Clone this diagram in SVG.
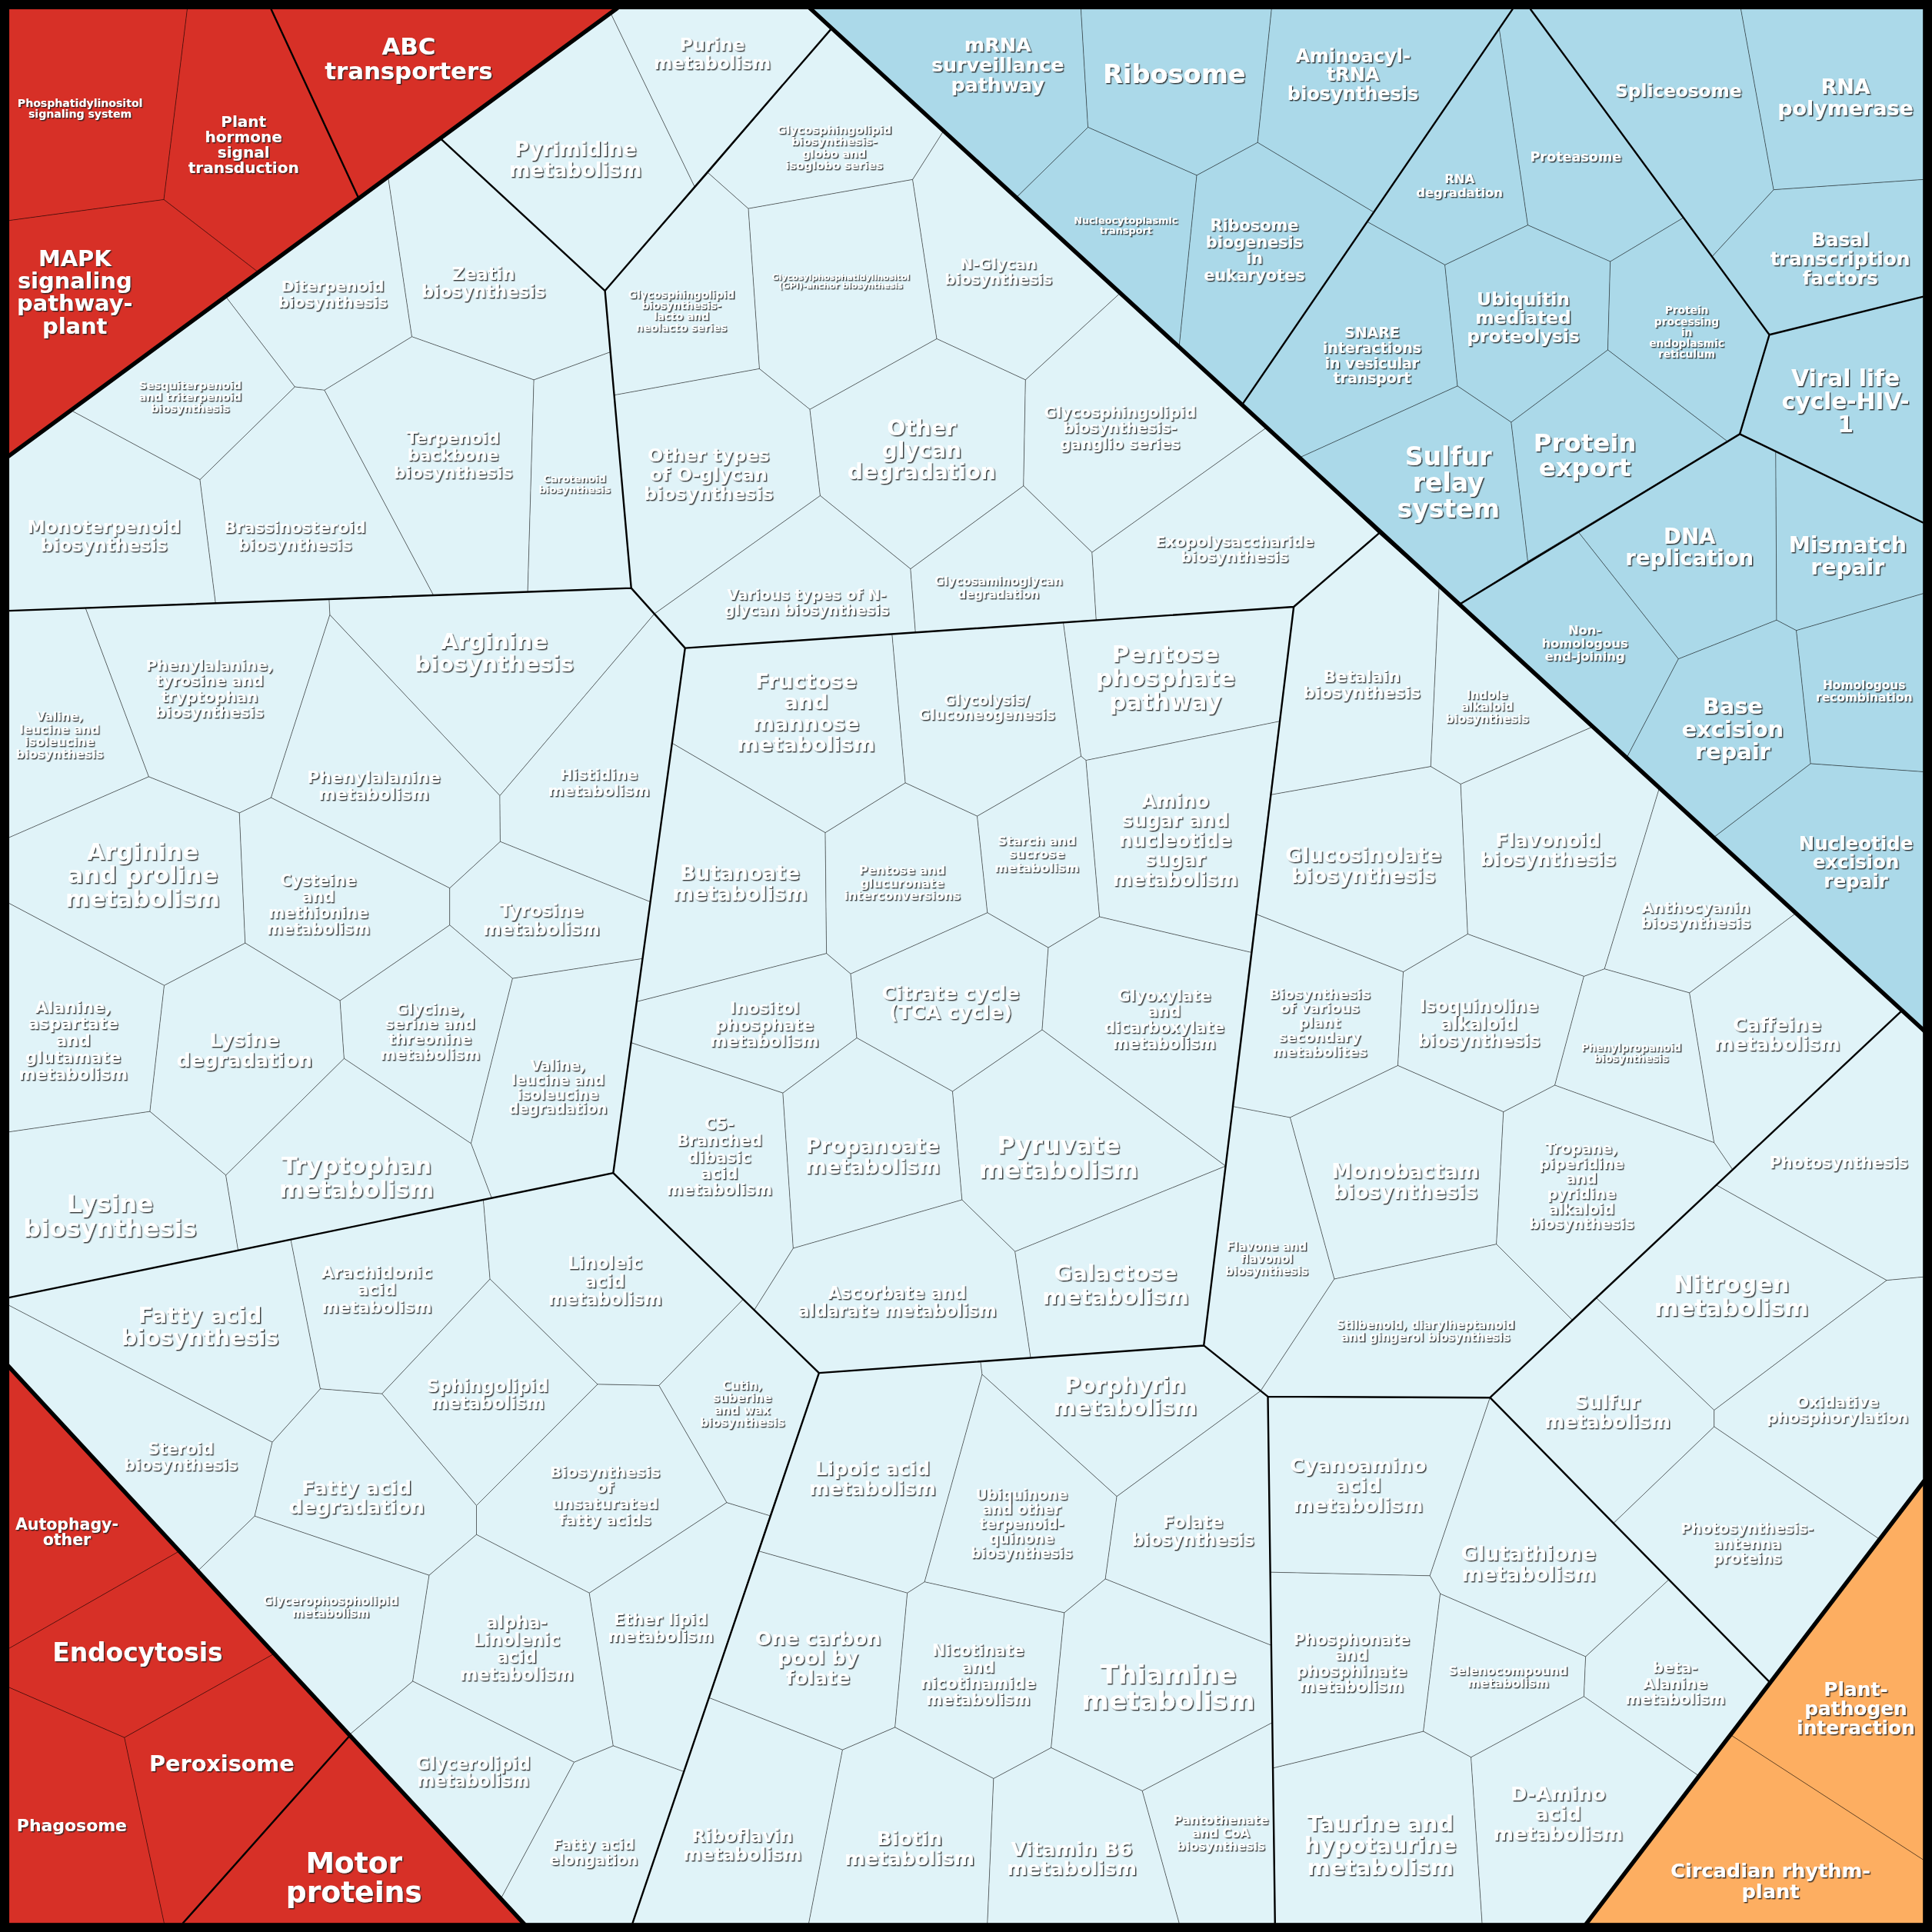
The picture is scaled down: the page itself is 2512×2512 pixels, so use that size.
<svg xmlns="http://www.w3.org/2000/svg" width="2512" height="2512" viewBox="0 0 2512 2512">
<defs>
<filter id="ts" x="-10%" y="-30%" width="125%" height="170%"><feDropShadow dx="0.9" dy="0.9" stdDeviation="0.35" flood-color="#1a1a1a" flood-opacity="0.85"/></filter>
<style>
text{font-family:"DejaVu Sans","Liberation Sans",sans-serif;font-weight:700;fill:#fff;text-anchor:middle;filter:url(#ts)}
.l{fill:#e0f3f8}.b{fill:#abd9e9}.r{fill:#d73027}.o{fill:#fdae61}
polygon{stroke:#000;stroke-opacity:.5;stroke-width:.45;stroke-linejoin:round}
.t1{stroke:#000;stroke-width:3.4;fill:none;stroke-linecap:square}
.t2{stroke:#000;stroke-width:1.5;fill:none;stroke-linejoin:round}
</style>
</defs>
<rect width="2512" height="2512" fill="#000"/>
<g transform="scale(1.60204)">
<g id="phosphatidylinositol"><polygon class="r" points="7.3,7.3 152,7.3 133,162 7.3,179"/><text x="65" y="83.3" font-size="8.8"><tspan x="65" dy=".36em">Phosphatidylinositol</tspan><tspan x="65" dy="1.04em">signaling system</tspan></text></g>
<g id="plant_hormone"><polygon class="r" points="152,7.3 220,7.3 291,160.7 209.3,220.7 133,162"/><text x="197.7" y="98.7" font-size="12.5"><tspan x="197.7" dy=".36em">Plant</tspan><tspan x="197.7" dy="1.0em">hormone</tspan><tspan x="197.7" dy="1.0em">signal</tspan><tspan x="197.7" dy="1.0em">transduction</tspan></text></g>
<g id="abc"><polygon class="r" points="220,7.3 500,7.3 291,160.7"/><text x="331.7" y="37.7" font-size="19.2"><tspan x="331.7" dy=".36em">ABC</tspan><tspan x="331.7" dy="1.02em">transporters</tspan></text></g>
<g id="mapk"><polygon class="r" points="7.3,179 133,162 209.3,220.7 7.3,370"/><text x="60.7" y="209.3" font-size="18"><tspan x="60.7" dy=".36em">MAPK</tspan><tspan x="60.7" dy="1.02em">signaling</tspan><tspan x="60.7" dy="1.02em">pathway-</tspan><tspan x="60.7" dy="1.02em">plant</tspan></text></g>

<g id="pyrimidine"><polygon class="l" points="357,112 495.3,10 564,152 491,236"/><text x="467" y="120.7" font-size="16.3"><tspan x="467" dy=".36em">Pyrimidine</tspan><tspan x="467" dy="1.03em">metabolism</tspan></text></g>
<g id="purine"><polygon class="l" points="495.3,10 500,7.3 658,7.3 675,23 564,152"/><text x="578" y="36" font-size="14.4"><tspan x="578" dy=".36em">Purine</tspan><tspan x="578" dy="1.04em">metabolism</tspan></text></g>

<g id="diterpenoid"><polygon class="l" points="183,240.5 315,143.5 334.3,273.3 263.3,316.7 239.3,314"/><text x="270" y="232.3" font-size="12.5"><tspan x="270" dy=".36em">Diterpenoid</tspan><tspan x="270" dy="1.02em">biosynthesis</tspan></text></g>
<g id="zeatin"><polygon class="l" points="315,143.5 357,112 491,236 495.4,285.7 433.3,308.3 334.3,273.3"/><text x="392.3" y="222.3" font-size="14.2"><tspan x="392.3" dy=".36em">Zeatin</tspan><tspan x="392.3" dy="1.01em">biosynthesis</tspan></text></g>
<g id="sesquiterpenoid"><polygon class="l" points="57.5,333 183,240.5 239.3,314 162.3,389.3"/><text x="154.3" y="312.7" font-size="9"><tspan x="154.3" dy=".36em">Sesquiterpenoid</tspan><tspan x="154.3" dy="1.05em">and triterpenoid</tspan><tspan x="154.3" dy="1.05em">biosynthesis</tspan></text></g>
<g id="terpenoid_backbone"><polygon class="l" points="263.3,316.7 334.3,273.3 433.3,308.3 428.3,480.4 351.7,483"/><text x="367.7" y="355.3" font-size="13.6"><tspan x="367.7" dy=".36em">Terpenoid</tspan><tspan x="367.7" dy="1.03em">backbone</tspan><tspan x="367.7" dy="1.03em">biosynthesis</tspan></text></g>
<g id="carotenoid"><polygon class="l" points="433.3,308.3 495.4,285.7 512.3,477.3 428.3,480.4"/><text x="466.3" y="388.3" font-size="8.2"><tspan x="466.3" dy=".36em">Carotenoid</tspan><tspan x="466.3" dy="1.08em">biosynthesis</tspan></text></g>
<g id="monoterpenoid"><polygon class="l" points="7.3,370 57.5,333 162.3,389.3 175,489.6 7.3,495.7"/><text x="84.3" y="427.3" font-size="14.5"><tspan x="84.3" dy=".36em">Monoterpenoid</tspan><tspan x="84.3" dy="1.05em">biosynthesis</tspan></text></g>
<g id="brassinosteroid"><polygon class="l" points="162.3,389.3 239.3,314 263.3,316.7 351.7,483 175,489.6"/><text x="239.3" y="427.7" font-size="13"><tspan x="239.3" dy=".36em">Brassinosteroid</tspan><tspan x="239.3" dy="1.1em">biosynthesis</tspan></text></g>

<g id="glyco_globo"><polygon class="l" points="675,23 766,106 740.7,145.7 607.3,169.3 574.7,140.3"/><text x="677" y="105" font-size="9.3"><tspan x="677" dy=".36em">Glycosphingolipid</tspan><tspan x="677" dy="1.05em">biosynthesis-</tspan><tspan x="677" dy="1.05em">globo and</tspan><tspan x="677" dy="1.05em">isoglobo series</tspan></text></g>
<g id="gpi_anchor"><polygon class="l" points="607.3,169.3 740.7,145.7 760.3,275 657.3,332.3 616.3,299.3"/><text x="682.3" y="225" font-size="6.9"><tspan x="682.3" dy=".36em">Glycosylphosphatidylinositol</tspan><tspan x="682.3" dy="1em">(GPI)-anchor biosynthesis</tspan></text></g>
<g id="n_glycan"><polygon class="l" points="740.7,145.7 766,106 909,238 832.3,308.3 760.3,275"/><text x="810.3" y="214" font-size="12.3"><tspan x="810.3" dy=".36em">N-Glycan</tspan><tspan x="810.3" dy="1.03em">biosynthesis</tspan></text></g>
<g id="glyco_lacto"><polygon class="l" points="491,236 574.7,140.3 607.3,169.3 616.3,299.3 498.5,320.7"/><text x="553" y="239" font-size="8.6"><tspan x="553" dy=".36em">Glycosphingolipid</tspan><tspan x="553" dy="1.04em">biosynthesis-</tspan><tspan x="553" dy="1.04em">lacto and</tspan><tspan x="553" dy="1.04em">neolacto series</tspan></text></g>
<g id="o_glycan"><polygon class="l" points="498.5,320.7 616.3,299.3 657.3,332.3 665.7,402.3 531.1,498.2 512.3,477.3"/><text x="575" y="369.3" font-size="14.8"><tspan x="575" dy=".36em">Other types</tspan><tspan x="575" dy="1.05em">of O-glycan</tspan><tspan x="575" dy="1.05em">biosynthesis</tspan></text></g>
<g id="other_glycan"><polygon class="l" points="657.3,332.3 760.3,275 832.3,308.3 830.7,394.3 739,461.7 665.7,402.3"/><text x="748" y="347.3" font-size="17.5"><tspan x="748" dy=".36em">Other</tspan><tspan x="748" dy="1.01em">glycan</tspan><tspan x="748" dy="1.01em">degradation</tspan></text></g>
<g id="glyco_ganglio"><polygon class="l" points="832.3,308.3 909,238 1028,347 886.3,448.3 830.7,394.3"/><text x="909" y="334.3" font-size="12.3"><tspan x="909" dy=".36em">Glycosphingolipid</tspan><tspan x="909" dy="1.04em">biosynthesis-</tspan><tspan x="909" dy="1.04em">ganglio series</tspan></text></g>
<g id="various_n_glycan"><polygon class="l" points="531.1,498.2 665.7,402.3 739,461.7 743,513.3 556,526"/><text x="654.7" y="482.7" font-size="12"><tspan x="654.7" dy=".36em">Various types of N-</tspan><tspan x="654.7" dy="1.03em">glycan biosynthesis</tspan></text></g>
<g id="glycosaminoglycan"><polygon class="l" points="739,461.7 830.7,394.3 886.3,448.3 889.7,503.4 743,513.3"/><text x="810.3" y="471.7" font-size="9.6"><tspan x="810.3" dy=".36em">Glycosaminoglycan</tspan><tspan x="810.3" dy="1.07em">degradation</tspan></text></g>
<g id="exopolysaccharide"><polygon class="l" points="886.3,448.3 1028,347 1119,433 1050,492.5 889.7,503.4"/><text x="1002" y="439.3" font-size="12.3"><tspan x="1002" dy=".36em">Exopolysaccharide</tspan><tspan x="1002" dy="1.03em">biosynthesis</tspan></text></g>

<g id="mrna_surveillance"><polygon class="b" points="658,7.3 877.3,7.3 883,103.3 824.8,160.4"/><text x="809.7" y="36" font-size="15.8"><tspan x="809.7" dy=".36em">mRNA</tspan><tspan x="809.7" dy="1.03em">surveillance</tspan><tspan x="809.7" dy="1.03em">pathway</tspan></text></g>
<g id="ribosome"><polygon class="b" points="877.3,7.3 1032,7.3 1020.7,115.7 971.3,142.3 883,103.3"/><text x="953" y="60" font-size="21" dy=".36em">Ribosome</text></g>
<g id="aminoacyl_trna"><polygon class="b" points="1032,7.3 1227.7,7.3 1115,172.3 1020.7,115.7"/><text x="1098" y="45" font-size="15"><tspan x="1098" dy=".36em">Aminoacyl-</tspan><tspan x="1098" dy="1.03em">tRNA</tspan><tspan x="1098" dy="1.03em">biosynthesis</tspan></text></g>
<g id="nucleocytoplasmic"><polygon class="b" points="824.8,160.4 883,103.3 971.3,142.3 957,281.6"/><text x="913.7" y="179" font-size="8"><tspan x="913.7" dy=".36em">Nucleocytoplasmic</tspan><tspan x="913.7" dy="1em">transport</tspan></text></g>
<g id="ribosome_biogenesis"><polygon class="b" points="971.3,142.3 1020.7,115.7 1115,172.3 1008,328.6 957,281.6"/><text x="1018" y="182.7" font-size="13"><tspan x="1018" dy=".36em">Ribosome</tspan><tspan x="1018" dy="1.03em">biogenesis</tspan><tspan x="1018" dy="1.03em">in</tspan><tspan x="1018" dy="1.03em">eukaryotes</tspan></text></g>

<g id="rna_degradation"><polygon class="b" points="1216.8,23.3 1240,182.7 1172.7,215 1109.7,180"/><text x="1184.5" y="145" font-size="10.2"><tspan x="1184.5" dy=".36em">RNA</tspan><tspan x="1184.5" dy="1.07em">degradation</tspan></text></g>
<g id="proteasome"><polygon class="b" points="1216.8,23.3 1227.7,7.3 1242,7.3 1366.3,176.7 1306.9,212.3 1240,182.7"/><text x="1278.9" y="127" font-size="11" dy=".36em">Proteasome</text></g>
<g id="snare"><polygon class="b" points="1109.7,180 1172.7,215 1182.9,313.3 1054.8,371.4 1008,328.6"/><text x="1113.5" y="270" font-size="11.8"><tspan x="1113.5" dy=".36em">SNARE</tspan><tspan x="1113.5" dy="1.04em">interactions</tspan><tspan x="1113.5" dy="1.04em">in vesicular</tspan><tspan x="1113.5" dy="1.04em">transport</tspan></text></g>
<g id="ubiquitin"><polygon class="b" points="1172.7,215 1240,182.7 1306.9,212.3 1304.9,284 1226.5,342.7 1182.9,313.3"/><text x="1236.2" y="242.7" font-size="14.6"><tspan x="1236.2" dy=".36em">Ubiquitin</tspan><tspan x="1236.2" dy="1.03em">mediated</tspan><tspan x="1236.2" dy="1.03em">proteolysis</tspan></text></g>
<g id="protein_processing"><polygon class="b" points="1306.9,212.3 1366.3,176.7 1436,271.7 1412,352.3 1402,358.3 1304.9,284"/><text x="1368.9" y="251.7" font-size="8.6"><tspan x="1368.9" dy=".36em">Protein</tspan><tspan x="1368.9" dy="1.04em">processing</tspan><tspan x="1368.9" dy="1.04em">in</tspan><tspan x="1368.9" dy="1.04em">endoplasmic</tspan><tspan x="1368.9" dy="1.04em">reticulum</tspan></text></g>
<g id="sulfur_relay"><polygon class="b" points="1054.8,371.4 1182.9,313.3 1226.5,342.7 1240,455.5 1185.3,490"/><text x="1175.5" y="370" font-size="20.6"><tspan x="1175.5" dy=".36em">Sulfur</tspan><tspan x="1175.5" dy="1.03em">relay</tspan><tspan x="1175.5" dy="1.03em">system</tspan></text></g>
<g id="protein_export"><polygon class="b" points="1226.5,342.7 1304.9,284 1402,358.3 1240,455.5"/><text x="1286.2" y="359" font-size="20.2"><tspan x="1286.2" dy=".36em">Protein</tspan><tspan x="1286.2" dy="1em">export</tspan></text></g>

<g id="spliceosome"><polygon class="b" points="1242,7.3 1412.9,7.3 1439.5,154 1389.5,208.3"/><text x="1362.2" y="73.3" font-size="14.5" dy=".36em">Spliceosome</text></g>
<g id="rna_polymerase"><polygon class="b" points="1412.9,7.3 1561,7.3 1561,145.7 1439.5,154"/><text x="1497.8" y="70" font-size="16.8"><tspan x="1497.8" dy=".36em">RNA</tspan><tspan x="1497.8" dy="1.03em">polymerase</tspan></text></g>
<g id="basal_transcription"><polygon class="b" points="1389.5,208.3 1439.5,154 1561,145.7 1561,240.7 1436,271.7"/><text x="1493.5" y="194.3" font-size="15.5"><tspan x="1493.5" dy=".36em">Basal</tspan><tspan x="1493.5" dy="1.01em">transcription</tspan><tspan x="1493.5" dy="1.01em">factors</tspan></text></g>
<g id="viral_hiv"><polygon class="b" points="1436,271.7 1561,240.7 1561,424.3 1412,352.3"/><text x="1497.8" y="306.7" font-size="18.5"><tspan x="1497.8" dy=".36em">Viral life</tspan><tspan x="1497.8" dy="1.02em">cycle-HIV-</tspan><tspan x="1497.8" dy="1.02em">1</tspan></text></g>

<g id="dna_replication"><polygon class="b" points="1280.5,431.2 1412,352.3 1441.2,366.4 1441.9,503.3 1362.2,534.8"/><text x="1371.2" y="435" font-size="17.2"><tspan x="1371.2" dy=".36em">DNA</tspan><tspan x="1371.2" dy="1.01em">replication</tspan></text></g>
<g id="mismatch_repair"><polygon class="b" points="1441.2,366.4 1561,424.3 1561,481.7 1457.9,511.7 1441.9,503.3"/><text x="1499.5" y="441.7" font-size="17.6"><tspan x="1499.5" dy=".36em">Mismatch</tspan><tspan x="1499.5" dy="1.04em">repair</tspan></text></g>
<g id="nhej"><polygon class="b" points="1185.3,490 1280.5,431.2 1362.2,534.8 1320.2,615"/><text x="1286.2" y="511" font-size="10.2"><tspan x="1286.2" dy=".36em">Non-</tspan><tspan x="1286.2" dy="1.05em">homologous</tspan><tspan x="1286.2" dy="1.05em">end-joining</tspan></text></g>
<g id="base_excision"><polygon class="b" points="1362.2,534.8 1441.9,503.3 1457.9,511.7 1469.5,619.8 1390.8,679.7 1320.2,615"/><text x="1406.2" y="573.1" font-size="18"><tspan x="1406.2" dy=".36em">Base</tspan><tspan x="1406.2" dy="1.02em">excision</tspan><tspan x="1406.2" dy="1.02em">repair</tspan></text></g>
<g id="homologous_recombination"><polygon class="b" points="1457.9,511.7 1561,481.7 1561,626.4 1469.5,619.8"/><text x="1512.9" y="555.8" font-size="9.6"><tspan x="1512.9" dy=".36em">Homologous</tspan><tspan x="1512.9" dy="1.04em">recombination</tspan></text></g>
<g id="nucleotide_excision"><polygon class="b" points="1469.5,619.8 1561,626.4 1561,836 1390.8,679.7"/><text x="1506.2" y="684" font-size="15.3"><tspan x="1506.2" dy=".36em">Nucleotide</tspan><tspan x="1506.2" dy="1.01em">excision</tspan><tspan x="1506.2" dy="1.01em">repair</tspan></text></g>

<g id="arginine_bio"><polygon class="l" points="267,486.2 512.3,477.3 531.1,498.2 405.7,645.8 267.7,499"/><text x="401" y="520" font-size="18.2"><tspan x="401" dy=".36em">Arginine</tspan><tspan x="401" dy="1em">biosynthesis</tspan></text></g>
<g id="phe_tyr_trp"><polygon class="l" points="69.3,493.4 267,486.2 267.7,499 220,647.4 194.3,659.8 120.7,630.4"/><text x="170" y="539.8" font-size="12.4"><tspan x="170" dy=".36em">Phenylalanine,</tspan><tspan x="170" dy="1.03em">tyrosine and</tspan><tspan x="170" dy="1.03em">tryptophan</tspan><tspan x="170" dy="1.03em">biosynthesis</tspan></text></g>
<g id="val_leu_ile_bio"><polygon class="l" points="7.3,495.7 69.3,493.4 120.7,630.4 7.3,679.8"/><text x="48.3" y="581.4" font-size="10"><tspan x="48.3" dy=".36em">Valine,</tspan><tspan x="48.3" dy="1.02em">leucine and</tspan><tspan x="48.3" dy="1.02em">isoleucine</tspan><tspan x="48.3" dy="1.02em">biosynthesis</tspan></text></g>
<g id="phenylalanine"><polygon class="l" points="267.7,499 405.7,645.8 406,683.1 365,720.8 220,647.4"/><text x="303.3" y="630.4" font-size="13.6"><tspan x="303.3" dy=".36em">Phenylalanine</tspan><tspan x="303.3" dy="1em">metabolism</tspan></text></g>
<g id="histidine"><polygon class="l" points="405.7,645.8 531.1,498.2 556,526 527.9,732 406,683.1"/><text x="486" y="628.4" font-size="12.5"><tspan x="486" dy=".36em">Histidine</tspan><tspan x="486" dy="1.03em">metabolism</tspan></text></g>
<g id="arg_pro"><polygon class="l" points="7.3,679.8 120.7,630.4 194.3,659.8 199,765.4 133.3,799.8 7.3,733.1"/><text x="115.7" y="690.8" font-size="19"><tspan x="115.7" dy=".36em">Arginine</tspan><tspan x="115.7" dy="1.01em">and proline</tspan><tspan x="115.7" dy="1.01em">metabolism</tspan></text></g>
<g id="cys_met"><polygon class="l" points="194.3,659.8 220,647.4 365,720.8 365,750.8 276,812.1 199,765.4"/><text x="258.3" y="714.8" font-size="12.7"><tspan x="258.3" dy=".36em">Cysteine</tspan><tspan x="258.3" dy="1.03em">and</tspan><tspan x="258.3" dy="1.03em">methionine</tspan><tspan x="258.3" dy="1.03em">metabolism</tspan></text></g>
<g id="tyrosine"><polygon class="l" points="365,720.8 406,683.1 527.9,732 521.5,778 416,794.1 365,750.8"/><text x="439.3" y="739.1" font-size="14.4"><tspan x="439.3" dy=".36em">Tyrosine</tspan><tspan x="439.3" dy="1.02em">metabolism</tspan></text></g>
<g id="ala_asp_glu"><polygon class="l" points="7.3,733.1 133.3,799.8 121.7,902.1 7.3,918.7"/><text x="59.3" y="817" font-size="13.4"><tspan x="59.3" dy=".36em">Alanine,</tspan><tspan x="59.3" dy="1.02em">aspartate</tspan><tspan x="59.3" dy="1.02em">and</tspan><tspan x="59.3" dy="1.02em">glutamate</tspan><tspan x="59.3" dy="1.02em">metabolism</tspan></text></g>
<g id="lysine_deg"><polygon class="l" points="133.3,799.8 199,765.4 276,812.1 279.3,859.1 183.3,953.8 121.7,902.1"/><text x="198.3" y="843.8" font-size="16"><tspan x="198.3" dy=".36em">Lysine</tspan><tspan x="198.3" dy="1em">degradation</tspan></text></g>
<g id="gly_ser_thr"><polygon class="l" points="276,812.1 365,750.8 416,794.1 382.3,928.1 279.3,859.1"/><text x="349" y="818.7" font-size="12.3"><tspan x="349" dy=".36em">Glycine,</tspan><tspan x="349" dy="1.0em">serine and</tspan><tspan x="349" dy="1.0em">threonine</tspan><tspan x="349" dy="1.0em">metabolism</tspan></text></g>
<g id="val_leu_ile_deg"><polygon class="l" points="416,794.1 521.5,778 497.7,952 399,972.4 382.3,928.1"/><text x="452.7" y="864.8" font-size="11.6"><tspan x="452.7" dy=".36em">Valine,</tspan><tspan x="452.7" dy="1.01em">leucine and</tspan><tspan x="452.7" dy="1.01em">isoleucine</tspan><tspan x="452.7" dy="1.01em">degradation</tspan></text></g>
<g id="lysine_bio"><polygon class="l" points="7.3,918.7 121.7,902.1 183.3,953.8 193.3,1014.8 7.3,1053.1"/><text x="89.3" y="976.4" font-size="19.8"><tspan x="89.3" dy=".36em">Lysine</tspan><tspan x="89.3" dy="1.01em">biosynthesis</tspan></text></g>
<g id="tryptophan"><polygon class="l" points="183.3,953.8 279.3,859.1 382.3,928.1 399,972.4 193.3,1014.8"/><text x="289.3" y="945.8" font-size="19"><tspan x="289.3" dy=".36em">Tryptophan</tspan><tspan x="289.3" dy="1em">metabolism</tspan></text></g>

<g id="fructose_mannose"><polygon class="l" points="556,526 724,514.6 734.8,635.4 669.8,675.8 545.4,603.1"/><text x="654.1" y="552.4" font-size="17"><tspan x="654.1" dy=".36em">Fructose</tspan><tspan x="654.1" dy="1.01em">and</tspan><tspan x="654.1" dy="1.01em">mannose</tspan><tspan x="654.1" dy="1.01em">metabolism</tspan></text></g>
<g id="glycolysis"><polygon class="l" points="724,514.6 863,505 877.4,613.8 793.1,662.4 734.8,635.4"/><text x="800.8" y="568.1" font-size="11.6"><tspan x="800.8" dy=".36em">Glycolysis/</tspan><tspan x="800.8" dy="1.01em">Gluconeogenesis</tspan></text></g>
<g id="pentose_phosphate"><polygon class="l" points="863,505 1050,492.5 1038.7,585.4 881.4,617.1 877.4,613.8"/><text x="945.8" y="530.4" font-size="19"><tspan x="945.8" dy=".36em">Pentose</tspan><tspan x="945.8" dy="1.02em">phosphate</tspan><tspan x="945.8" dy="1.02em">pathway</tspan></text></g>
<g id="butanoate"><polygon class="l" points="545.4,603.1 669.8,675.8 670.8,773.8 516.7,813"/><text x="600.4" y="708.1" font-size="16.6"><tspan x="600.4" dy=".36em">Butanoate</tspan><tspan x="600.4" dy="1.01em">metabolism</tspan></text></g>
<g id="pentose_glucuronate"><polygon class="l" points="669.8,675.8 734.8,635.4 793.1,662.4 801.4,740.8 690.4,790.4 670.8,773.8"/><text x="732.1" y="706.4" font-size="10"><tspan x="732.1" dy=".36em">Pentose and</tspan><tspan x="732.1" dy="1.03em">glucuronate</tspan><tspan x="732.1" dy="1.03em">interconversions</tspan></text></g>
<g id="starch_sucrose"><polygon class="l" points="793.1,662.4 877.4,613.8 881.4,617.1 892.4,744.1 850.8,769.1 801.4,740.8"/><text x="841.4" y="682.4" font-size="10.4"><tspan x="841.4" dy=".36em">Starch and</tspan><tspan x="841.4" dy="1.03em">sucrose</tspan><tspan x="841.4" dy="1.03em">metabolism</tspan></text></g>
<g id="amino_sugar"><polygon class="l" points="881.4,617.1 1038.7,585.4 1015.8,773.1 892.4,744.1"/><text x="953.8" y="649.8" font-size="15.4"><tspan x="953.8" dy=".36em">Amino</tspan><tspan x="953.8" dy="1.03em">sugar and</tspan><tspan x="953.8" dy="1.03em">nucleotide</tspan><tspan x="953.8" dy="1.03em">sugar</tspan><tspan x="953.8" dy="1.03em">metabolism</tspan></text></g>
<g id="inositol_phosphate"><polygon class="l" points="516.7,813 670.8,773.8 690.4,790.4 695.4,842.4 635.4,887.1 512.1,846.2"/><text x="620.4" y="818.1" font-size="13.4"><tspan x="620.4" dy=".36em">Inositol</tspan><tspan x="620.4" dy="1em">phosphate</tspan><tspan x="620.4" dy="1em">metabolism</tspan></text></g>
<g id="tca"><polygon class="l" points="690.4,790.4 801.4,740.8 850.8,769.1 845.8,835.8 773.1,885.8 695.4,842.4"/><text x="771.4" y="805.8" font-size="15.8"><tspan x="771.4" dy=".36em">Citrate cycle</tspan><tspan x="771.4" dy="1em">(TCA cycle)</tspan></text></g>
<g id="glyoxylate"><polygon class="l" points="850.8,769.1 892.4,744.1 1015.8,773.1 994.7,946.4 845.8,835.8"/><text x="944.8" y="808.1" font-size="12.7"><tspan x="944.8" dy=".36em">Glyoxylate</tspan><tspan x="944.8" dy="1.01em">and</tspan><tspan x="944.8" dy="1.01em">dicarboxylate</tspan><tspan x="944.8" dy="1.01em">metabolism</tspan></text></g>
<g id="c5_branched"><polygon class="l" points="512.1,846.2 635.4,887.1 643.8,1013.1 612,1063.5 497.7,952"/><text x="583.8" y="912.4" font-size="13"><tspan x="583.8" dy=".36em">C5-</tspan><tspan x="583.8" dy="1.02em">Branched</tspan><tspan x="583.8" dy="1.02em">dibasic</tspan><tspan x="583.8" dy="1.02em">acid</tspan><tspan x="583.8" dy="1.02em">metabolism</tspan></text></g>
<g id="propanoate"><polygon class="l" points="635.4,887.1 695.4,842.4 773.1,885.8 780.8,973.8 643.8,1013.1"/><text x="708.1" y="929.8" font-size="16.6"><tspan x="708.1" dy=".36em">Propanoate</tspan><tspan x="708.1" dy="1.01em">metabolism</tspan></text></g>
<g id="pyruvate"><polygon class="l" points="773.1,885.8 845.8,835.8 994.7,946.4 823.8,1015.8 780.8,973.8"/><text x="859.1" y="929.1" font-size="19.6"><tspan x="859.1" dy=".36em">Pyruvate</tspan><tspan x="859.1" dy="1.02em">metabolism</tspan></text></g>
<g id="ascorbate"><polygon class="l" points="612,1063.5 643.8,1013.1 780.8,973.8 823.8,1015.8 836.5,1102 664.7,1114.3"/><text x="728.1" y="1049.5" font-size="13.8"><tspan x="728.1" dy=".36em">Ascorbate and</tspan><tspan x="728.1" dy="1.01em">aldarate metabolism</tspan></text></g>
<g id="galactose"><polygon class="l" points="823.8,1015.8 994.7,946.4 977,1092 836.5,1102"/><text x="905.4" y="1033.1" font-size="18"><tspan x="905.4" dy=".36em">Galactose</tspan><tspan x="905.4" dy="1.06em">metabolism</tspan></text></g>

<g id="fatty_acid_bio"><polygon class="l" points="7.3,1053.1 236,1006 260,1127.2 221,1170.5 7.3,1059.5"/><text x="162.3" y="1067.2" font-size="18"><tspan x="162.3" dy=".36em">Fatty acid</tspan><tspan x="162.3" dy="1em">biosynthesis</tspan></text></g>
<g id="arachidonic"><polygon class="l" points="236,1006 392.3,973.7 397.7,1038.1 310,1131.2 260,1127.2"/><text x="305.7" y="1032.4" font-size="13.6"><tspan x="305.7" dy=".36em">Arachidonic</tspan><tspan x="305.7" dy="1.03em">acid</tspan><tspan x="305.7" dy="1.03em">metabolism</tspan></text></g>
<g id="linoleic"><polygon class="l" points="392.3,973.7 497.7,952 603.2,1054.5 534.8,1124.5 485,1123.5 397.7,1038.1"/><text x="491" y="1025" font-size="14"><tspan x="491" dy=".36em">Linoleic</tspan><tspan x="491" dy="1.05em">acid</tspan><tspan x="491" dy="1.05em">metabolism</tspan></text></g>
<g id="steroid"><polygon class="l" points="7.3,1059.5 221,1170.5 206.7,1230.5 160.5,1275 7.3,1109.3"/><text x="146.7" y="1175.5" font-size="13"><tspan x="146.7" dy=".36em">Steroid</tspan><tspan x="146.7" dy="1.03em">biosynthesis</tspan></text></g>
<g id="sphingolipid"><polygon class="l" points="310,1131.2 397.7,1038.1 485,1123.5 386.7,1221.9"/><text x="395.7" y="1124.5" font-size="14"><tspan x="395.7" dy=".36em">Sphingolipid</tspan><tspan x="395.7" dy="1em">metabolism</tspan></text></g>
<g id="cutin"><polygon class="l" points="534.8,1124.5 603.2,1054.5 664.7,1114.3 624.8,1230.2 589.8,1219.5"/><text x="602.4" y="1124.5" font-size="9.7"><tspan x="602.4" dy=".36em">Cutin,</tspan><tspan x="602.4" dy="1.03em">suberine</tspan><tspan x="602.4" dy="1.03em">and wax</tspan><tspan x="602.4" dy="1.03em">biosynthesis</tspan></text></g>
<g id="unsaturated_fa"><polygon class="l" points="386.7,1221.9 485,1123.5 534.8,1124.5 589.8,1219.5 478.3,1292.9 386.7,1245.5"/><text x="491" y="1194.5" font-size="12.5"><tspan x="491" dy=".36em">Biosynthesis</tspan><tspan x="491" dy="1.03em">of</tspan><tspan x="491" dy="1.03em">unsaturated</tspan><tspan x="491" dy="1.03em">fatty acids</tspan></text></g>
<g id="fatty_acid_deg"><polygon class="l" points="221,1170.5 260,1127.2 310,1131.2 386.7,1221.9 386.7,1245.5 348.3,1278.5 206.7,1230.5"/><text x="289.3" y="1206.9" font-size="16"><tspan x="289.3" dy=".36em">Fatty acid</tspan><tspan x="289.3" dy="1em">degradation</tspan></text></g>
<g id="glycerophospholipid"><polygon class="l" points="160.5,1275 206.7,1230.5 348.3,1278.5 335,1364.5 283.5,1408"/><text x="268.3" y="1299.5" font-size="9.5"><tspan x="268.3" dy=".36em">Glycerophospholipid</tspan><tspan x="268.3" dy="1.05em">metabolism</tspan></text></g>
<g id="alpha_linolenic"><polygon class="l" points="348.3,1278.5 386.7,1245.5 478.3,1292.9 497.7,1416.9 466,1430.2 335,1364.5"/><text x="419.3" y="1316.2" font-size="14"><tspan x="419.3" dy=".36em">alpha-</tspan><tspan x="419.3" dy="1.02em">Linolenic</tspan><tspan x="419.3" dy="1.02em">acid</tspan><tspan x="419.3" dy="1.02em">metabolism</tspan></text></g>
<g id="ether_lipid"><polygon class="l" points="478.3,1292.9 589.8,1219.5 624.8,1230.2 555,1437.9 497.7,1416.9"/><text x="536.2" y="1314.5" font-size="13"><tspan x="536.2" dy=".36em">Ether lipid</tspan><tspan x="536.2" dy="1.03em">metabolism</tspan></text></g>
<g id="glycerolipid"><polygon class="l" points="283.5,1408 335,1364.5 466,1430.2 406.5,1541"/><text x="384" y="1431.2" font-size="13.8"><tspan x="384" dy=".36em">Glycerolipid</tspan><tspan x="384" dy="1.01em">metabolism</tspan></text></g>
<g id="fa_elongation"><polygon class="l" points="466,1430.2 497.7,1416.9 555,1437.9 513.3,1561 425,1561 406.5,1541"/><text x="481.7" y="1497" font-size="11.9"><tspan x="481.7" dy=".36em">Fatty acid</tspan><tspan x="481.7" dy="1.03em">elongation</tspan></text></g>

<g id="autophagy"><polygon class="r" points="7.3,1109.3 145.6,1258.9 7.3,1337.9"/><text x="54.3" y="1236.9" font-size="12.8"><tspan x="54.3" dy=".36em">Autophagy-</tspan><tspan x="54.3" dy="1em">other</tspan></text></g>
<g id="endocytosis"><polygon class="r" points="7.3,1337.9 145.6,1258.9 222.6,1342.1 101,1410.2 7.3,1369.5"/><text x="111.7" y="1341.2" font-size="20.5" dy=".36em">Endocytosis</text></g>
<g id="phagosome"><polygon class="r" points="7.3,1369.5 101,1410.2 133.3,1561 7.3,1561"/><text x="58.3" y="1481.2" font-size="13.7" dy=".36em">Phagosome</text></g>
<g id="peroxisome"><polygon class="r" points="101,1410.2 222.6,1342.1 284,1408.5 148.3,1561 133.3,1561"/><text x="180" y="1431.2" font-size="17.9" dy=".36em">Peroxisome</text></g>
<g id="motor_proteins"><polygon class="r" points="284,1408.5 425,1561 148.3,1561"/><text x="287.3" y="1511.2" font-size="23.5"><tspan x="287.3" dy=".36em">Motor</tspan><tspan x="287.3" dy="1.02em">proteins</tspan></text></g>

<g id="lipoic_acid"><polygon class="l" points="664.7,1114.3 795.8,1104.9 797.1,1115.5 750.4,1283.9 736.4,1292.9 615.8,1258.9"/><text x="708.1" y="1191.9" font-size="15.6"><tspan x="708.1" dy=".36em">Lipoic acid</tspan><tspan x="708.1" dy="1.02em">metabolism</tspan></text></g>
<g id="porphyrin"><polygon class="l" points="795.8,1104.9 977,1092 1023.1,1128.9 906.4,1214.5 797.1,1115.5"/><text x="913.1" y="1123.9" font-size="17.7"><tspan x="913.1" dy=".36em">Porphyrin</tspan><tspan x="913.1" dy="1.02em">metabolism</tspan></text></g>
<g id="ubiquinone"><polygon class="l" points="797.1,1115.5 906.4,1214.5 897.1,1281.5 863.8,1308.9 750.4,1283.9"/><text x="829.1" y="1212.9" font-size="11.6"><tspan x="829.1" dy=".36em">Ubiquinone</tspan><tspan x="829.1" dy="1.02em">and other</tspan><tspan x="829.1" dy="1.02em">terpenoid-</tspan><tspan x="829.1" dy="1.02em">quinone</tspan><tspan x="829.1" dy="1.02em">biosynthesis</tspan></text></g>
<g id="folate"><polygon class="l" points="906.4,1214.5 1023.1,1128.9 1029,1133.5 1032,1335.5 897.1,1281.5"/><text x="968.1" y="1235.5" font-size="14"><tspan x="968.1" dy=".36em">Folate</tspan><tspan x="968.1" dy="1em">biosynthesis</tspan></text></g>
<g id="one_carbon"><polygon class="l" points="615.8,1258.9 736.4,1292.9 726.4,1401.9 683.8,1420.2 575.5,1377.9"/><text x="663.8" y="1329.5" font-size="15.8"><tspan x="663.8" dy=".36em">One carbon</tspan><tspan x="663.8" dy="1em">pool by</tspan><tspan x="663.8" dy="1em">folate</tspan></text></g>
<g id="nicotinate"><polygon class="l" points="736.4,1292.9 750.4,1283.9 863.8,1308.9 853.1,1418.5 806.4,1443.5 726.4,1401.9"/><text x="793.8" y="1339.5" font-size="12.8"><tspan x="793.8" dy=".36em">Nicotinate</tspan><tspan x="793.8" dy="1.04em">and</tspan><tspan x="793.8" dy="1.04em">nicotinamide</tspan><tspan x="793.8" dy="1.04em">metabolism</tspan></text></g>
<g id="thiamine"><polygon class="l" points="863.8,1308.9 897.1,1281.5 1032,1335.5 1032.6,1398.1 927.1,1453.5 853.1,1418.5"/><text x="948.1" y="1358.5" font-size="21.3"><tspan x="948.1" dy=".36em">Thiamine</tspan><tspan x="948.1" dy="1em">metabolism</tspan></text></g>
<g id="riboflavin"><polygon class="l" points="575.5,1377.9 683.8,1420.2 656.4,1561 513.3,1561"/><text x="602.4" y="1489.5" font-size="14.6"><tspan x="602.4" dy=".36em">Riboflavin</tspan><tspan x="602.4" dy="1.05em">metabolism</tspan></text></g>
<g id="biotin"><polygon class="l" points="683.8,1420.2 726.4,1401.9 806.4,1443.5 801.4,1561 656.4,1561"/><text x="738.1" y="1491.9" font-size="16"><tspan x="738.1" dy=".36em">Biotin</tspan><tspan x="738.1" dy="1em">metabolism</tspan></text></g>
<g id="vitamin_b6"><polygon class="l" points="806.4,1443.5 853.1,1418.5 927.1,1453.5 957.1,1561 801.4,1561"/><text x="869.8" y="1500.2" font-size="16"><tspan x="869.8" dy=".36em">Vitamin B6</tspan><tspan x="869.8" dy="1em">metabolism</tspan></text></g>
<g id="pantothenate"><polygon class="l" points="927.1,1453.5 1032.6,1398.1 1034.8,1561 957.1,1561"/><text x="990.8" y="1476.9" font-size="10.1"><tspan x="990.8" dy=".36em">Pantothenate</tspan><tspan x="990.8" dy="1.04em">and CoA</tspan><tspan x="990.8" dy="1.04em">biosynthesis</tspan></text></g>

<g id="betalain"><polygon class="l" points="1050,492.5 1119,433 1168,476.5 1161.2,622.1 1031.1,645.1"/><text x="1105.2" y="548.8" font-size="13.4"><tspan x="1105.2" dy=".36em">Betalain</tspan><tspan x="1105.2" dy="1em">biosynthesis</tspan></text></g>
<g id="indole_alkaloid"><polygon class="l" points="1168,476.5 1292.7,589.8 1185.5,636.4 1161.2,622.1"/><text x="1206.9" y="563.8" font-size="9.5"><tspan x="1206.9" dy=".36em">Indole</tspan><tspan x="1206.9" dy="1.02em">alkaloid</tspan><tspan x="1206.9" dy="1.02em">biosynthesis</tspan></text></g>
<g id="glucosinolate"><polygon class="l" points="1031.1,645.1 1161.2,622.1 1185.5,636.4 1191.2,758.1 1138.9,788.8 1019.1,741.8"/><text x="1106.5" y="693.8" font-size="16.5"><tspan x="1106.5" dy=".36em">Glucosinolate</tspan><tspan x="1106.5" dy="1.01em">biosynthesis</tspan></text></g>
<g id="flavonoid"><polygon class="l" points="1185.5,636.4 1292.7,589.8 1346.8,639.4 1302.2,786.4 1285.5,792.4 1191.2,758.1"/><text x="1256.2" y="681.4" font-size="15.5"><tspan x="1256.2" dy=".36em">Flavonoid</tspan><tspan x="1256.2" dy="1.01em">biosynthesis</tspan></text></g>
<g id="anthocyanin"><polygon class="l" points="1346.8,639.4 1457.6,741.1 1371.2,805.8 1302.2,786.4"/><text x="1376.2" y="736.4" font-size="12.5"><tspan x="1376.2" dy=".36em">Anthocyanin</tspan><tspan x="1376.2" dy="1.01em">biosynthesis</tspan></text></g>
<g id="various_plant_secondary"><polygon class="l" points="1019.1,741.8 1138.9,788.8 1134.5,864.8 1047,907 1000,898"/><text x="1071" y="806.4" font-size="11.5"><tspan x="1071" dy=".36em">Biosynthesis</tspan><tspan x="1071" dy="1.03em">of various</tspan><tspan x="1071" dy="1.03em">plant</tspan><tspan x="1071" dy="1.03em">secondary</tspan><tspan x="1071" dy="1.03em">metabolites</tspan></text></g>
<g id="isoquinoline"><polygon class="l" points="1138.9,788.8 1191.2,758.1 1285.5,792.4 1261.9,880.8 1220.2,902.4 1134.5,864.8"/><text x="1200.2" y="816.4" font-size="14"><tspan x="1200.2" dy=".36em">Isoquinoline</tspan><tspan x="1200.2" dy="1.01em">alkaloid</tspan><tspan x="1200.2" dy="1.01em">biosynthesis</tspan></text></g>
<g id="phenylpropanoid"><polygon class="l" points="1285.5,792.4 1302.2,786.4 1371.2,805.8 1391.2,927.4 1261.9,880.8"/><text x="1323.9" y="850.4" font-size="8.5"><tspan x="1323.9" dy=".36em">Phenylpropanoid</tspan><tspan x="1323.9" dy="1em">biosynthesis</tspan></text></g>
<g id="caffeine"><polygon class="l" points="1371.2,805.8 1457.6,741.1 1543.7,820.1 1406.2,949.3 1391.2,927.4"/><text x="1442.2" y="831.4" font-size="15.5"><tspan x="1442.2" dy=".36em">Caffeine</tspan><tspan x="1442.2" dy="1.01em">metabolism</tspan></text></g>
<g id="monobactam"><polygon class="l" points="1047,907 1134.5,864.8 1220.2,902.4 1214.5,1009.8 1082.9,1038.1"/><text x="1140.5" y="950.4" font-size="16.5"><tspan x="1140.5" dy=".36em">Monobactam</tspan><tspan x="1140.5" dy="1.01em">biosynthesis</tspan></text></g>
<g id="tropane"><polygon class="l" points="1220.2,902.4 1261.9,880.8 1391.2,927.4 1406.2,949.3 1276.2,1071.4 1214.5,1009.8"/><text x="1283.5" y="932.1" font-size="12"><tspan x="1283.5" dy=".36em">Tropane,</tspan><tspan x="1283.5" dy="1.02em">piperidine</tspan><tspan x="1283.5" dy="1.02em">and</tspan><tspan x="1283.5" dy="1.02em">pyridine</tspan><tspan x="1283.5" dy="1.02em">alkaloid</tspan><tspan x="1283.5" dy="1.02em">biosynthesis</tspan></text></g>
<g id="flavone"><polygon class="l" points="1000.6,898 1047,907 1082.9,1038.1 1023.1,1128.9 977,1092"/><text x="1028" y="1011.4" font-size="9.5"><tspan x="1028" dy=".36em">Flavone and</tspan><tspan x="1028" dy="1.05em">flavonol</tspan><tspan x="1028" dy="1.05em">biosynthesis</tspan></text></g>
<g id="stilbenoid"><polygon class="l" points="1082.9,1038.1 1214.5,1009.8 1276.2,1071.4 1209.3,1134.3 1029,1133.5 1023.1,1128.9"/><text x="1156.9" y="1075.5" font-size="9.4"><tspan x="1156.9" dy=".36em">Stilbenoid, diarylheptanoid</tspan><tspan x="1156.9" dy="1.06em">and gingerol biosynthesis</tspan></text></g>

<g id="photosynthesis"><polygon class="l" points="1543.7,820.1 1561,836 1561,1036.4 1531.2,1039.1 1392.9,961.8"/><text x="1492.2" y="943.8" font-size="13" dy=".36em">Photosynthesis</text></g>
<g id="nitrogen"><polygon class="l" points="1392.9,961.8 1531.2,1039.1 1391.2,1144.5 1295.5,1053.3"/><text x="1405.2" y="1042" font-size="19"><tspan x="1405.2" dy=".36em">Nitrogen</tspan><tspan x="1405.2" dy="1.01em">metabolism</tspan></text></g>
<g id="sulfur"><polygon class="l" points="1295.5,1053.3 1391.2,1144.5 1391.2,1157.9 1309.5,1236.3 1209.3,1134.3"/><text x="1304.5" y="1137.9" font-size="15.5"><tspan x="1304.5" dy=".36em">Sulfur</tspan><tspan x="1304.5" dy="1.01em">metabolism</tspan></text></g>
<g id="oxidative_phosphorylation"><polygon class="l" points="1531.2,1039.1 1561,1036.4 1561,1202.7 1525.5,1249.3 1391.2,1157.9 1391.2,1144.5"/><text x="1491.2" y="1137.9" font-size="12.5"><tspan x="1491.2" dy=".36em">Oxidative</tspan><tspan x="1491.2" dy="1.01em">phosphorylation</tspan></text></g>
<g id="antenna"><polygon class="l" points="1391.2,1157.9 1525.5,1249.3 1437,1366 1309.5,1236.3"/><text x="1417.9" y="1240.5" font-size="11.9"><tspan x="1417.9" dy=".36em">Photosynthesis-</tspan><tspan x="1417.9" dy="1.03em">antenna</tspan><tspan x="1417.9" dy="1.03em">proteins</tspan></text></g>

<g id="cyanoamino"><polygon class="l" points="1029,1133.5 1209.3,1134.3 1160.5,1278.9 1031,1276"/><text x="1102.2" y="1188.9" font-size="16"><tspan x="1102.2" dy=".36em">Cyanoamino</tspan><tspan x="1102.2" dy="1.01em">acid</tspan><tspan x="1102.2" dy="1.01em">metabolism</tspan></text></g>
<g id="glutathione"><polygon class="l" points="1209.3,1134.3 1354.5,1282 1286.9,1344.5 1168.9,1293.5 1160.5,1278.9"/><text x="1240.5" y="1260.5" font-size="16.5"><tspan x="1240.5" dy=".36em">Glutathione</tspan><tspan x="1240.5" dy="1.01em">metabolism</tspan></text></g>
<g id="phosphonate"><polygon class="l" points="1031,1276 1160.5,1278.9 1168.9,1293.5 1155.2,1405.2 1033.1,1435"/><text x="1096.9" y="1330.5" font-size="12.8"><tspan x="1096.9" dy=".36em">Phosphonate</tspan><tspan x="1096.9" dy="1em">and</tspan><tspan x="1096.9" dy="1em">phosphinate</tspan><tspan x="1096.9" dy="1em">metabolism</tspan></text></g>
<g id="selenocompound"><polygon class="l" points="1168.9,1293.5 1286.9,1344.5 1285.5,1376.9 1193.9,1426.2 1155.2,1405.2"/><text x="1223.9" y="1356.2" font-size="10"><tspan x="1223.9" dy=".36em">Selenocompound</tspan><tspan x="1223.9" dy="1em">metabolism</tspan></text></g>
<g id="beta_alanine"><polygon class="l" points="1286.9,1344.5 1354.5,1282 1437,1366 1378.9,1441.4 1285.5,1376.9"/><text x="1359.5" y="1353.5" font-size="12.3"><tspan x="1359.5" dy=".36em">beta-</tspan><tspan x="1359.5" dy="1.02em">Alanine</tspan><tspan x="1359.5" dy="1.02em">metabolism</tspan></text></g>
<g id="taurine"><polygon class="l" points="1033.1,1435 1155.2,1405.2 1193.9,1426.2 1202.9,1561 1034.8,1561"/><text x="1120.2" y="1479.5" font-size="18"><tspan x="1120.2" dy=".36em">Taurine and</tspan><tspan x="1120.2" dy="1em">hypotaurine</tspan><tspan x="1120.2" dy="1em">metabolism</tspan></text></g>
<g id="d_amino_acid"><polygon class="l" points="1193.9,1426.2 1285.5,1376.9 1378.9,1441.4 1287.7,1561 1202.9,1561"/><text x="1264.5" y="1455.5" font-size="16"><tspan x="1264.5" dy=".36em">D-Amino</tspan><tspan x="1264.5" dy="1.01em">acid</tspan><tspan x="1264.5" dy="1.01em">metabolism</tspan></text></g>

<g id="plant_pathogen"><polygon class="o" points="1561,1202.7 1561,1509.5 1404.5,1408"/><text x="1506.2" y="1370.5" font-size="15.5"><tspan x="1506.2" dy=".36em">Plant-</tspan><tspan x="1506.2" dy="1.01em">pathogen</tspan><tspan x="1506.2" dy="1.01em">interaction</tspan></text></g>
<g id="circadian"><polygon class="o" points="1404.5,1408 1561,1509.5 1561,1561 1287.7,1561"/><text x="1436.9" y="1517.9" font-size="16"><tspan x="1436.9" dy=".36em">Circadian rhythm-</tspan><tspan x="1436.9" dy="1.04em">plant</tspan></text></g>

<g id="borders">
<path class="t2" d="M220,7.3 L291,160.7 M357,112 L491,236 L675,23 M491,236 L512.3,477.3 L556,526 M7.3,495.7 L512.3,477.3 M556,526 L1050,492.5 L1119,433 M556,526 L497.7,952 L7.3,1053.1 M497.7,952 L664.7,1114.3 L977,1092 L1050,492.5 M664.7,1114.3 L513.3,1561 M977,1092 L1029,1133.5 L1034.8,1561 M1029,1133.5 L1209.3,1134.3 L1543.7,820.1 M1209.3,1134.3 L1437,1366 M1227.7,7.3 L1008,328.6 M1242,7.3 L1436,271.7 L1561,240.7 M1436,271.7 L1412,352.3 L1185.3,490 M1412,352.3 L1561,424.3 M284,1408.5 L148.3,1561"/>
<path class="t1" d="M7.3,370 L500,7.3 M658,7.3 L1561,836 M7.3,1109.3 L425,1561 M1561,1202.7 L1287.7,1561"/>
<rect x="3.65" y="3.65" width="1560.7" height="1560.7" fill="none" stroke="#000" stroke-width="7.3"/>
</g>
</g>
</svg>
